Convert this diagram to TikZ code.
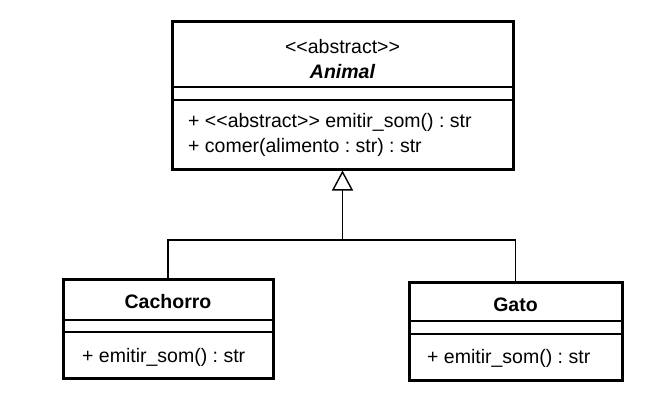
\documentclass[tikz,border=0pt]{standalone}
\usepackage{fontspec}
\setmainfont{Liberation Sans}
\usetikzlibrary{arrows.meta,calc}
\frenchspacing
\tikzset{
  classbox/.style={draw,line width=3pt,inner sep=0pt,fill=white},
  sepline/.style={line width=1.3pt},
  member/.style={anchor=west,inner sep=0pt,font=\fontsize{19.5}{21}\selectfont},
  cname/.style={inner sep=0pt,font=\fontsize{19.5}{21}\selectfont\bfseries},
  link/.style={line width=1.4pt}
}

\begin{document}
\begin{tikzpicture}[x=1pt,y=-1pt]
    \useasboundingbox (0,0) rectangle (658,412);
    % classe abstrata
    \node[classbox,minimum width=341pt,minimum height=147pt] (animal) at (342.5,95.5) {};
    \draw[sepline] (animal.west |- 0,87) -- (animal.east |- 0,87);
    \draw[sepline] (animal.west |- 0,100) -- (animal.east |- 0,100);
    \node[inner sep=0pt,font=\fontsize{19.5}{21}\selectfont] (stereo) at (342.5,47) {{<}{<}abstract{>}{>}};
    \node[cname,font=\fontsize{19.5}{21}\selectfont\bfseries\itshape] (animalname) at (342.5,72) {Animal};
    \node[member] (som) at (188,122) {+ {<}{<}abstract{>}{>} emitir\_som() : str};
    \node[member] (comer) at (188,147) {+ comer(alimento : str) : str};
    % subclasses
    \node[classbox,minimum width=210pt,minimum height=99pt] (cachorro) at (168,328.5) {};
    \draw[sepline] (cachorro.west |- 0,320) -- (cachorro.east |- 0,320);
    \draw[sepline] (cachorro.west |- 0,332) -- (cachorro.east |- 0,332);
    \node[cname] (cachorroname) at (168,302) {Cachorro};
    \node[member] (cachorrosom) at (82,357) {+ emitir\_som() : str};
    \node[classbox,minimum width=213pt,minimum height=98pt] (gato) at (515.5,331) {};
    \draw[sepline] (gato.west |- 0,321) -- (gato.east |- 0,321);
    \draw[sepline] (gato.west |- 0,334) -- (gato.east |- 0,334);
    \node[cname] (gatoname) at (515.5,305) {Gato};
    \node[member] (gatosom) at (427,358) {+ emitir\_som() : str};
    % heranca
    \coordinate (junction) at (342.5,240);
    \draw[link] (cachorro.north) |- (junction) -| (gato.north);
    \draw[link,-{Triangle[open,length=20pt,width=21pt,line width=1.4pt]}] (junction) -- (animal.south);
  \end{tikzpicture}
\end{document}
